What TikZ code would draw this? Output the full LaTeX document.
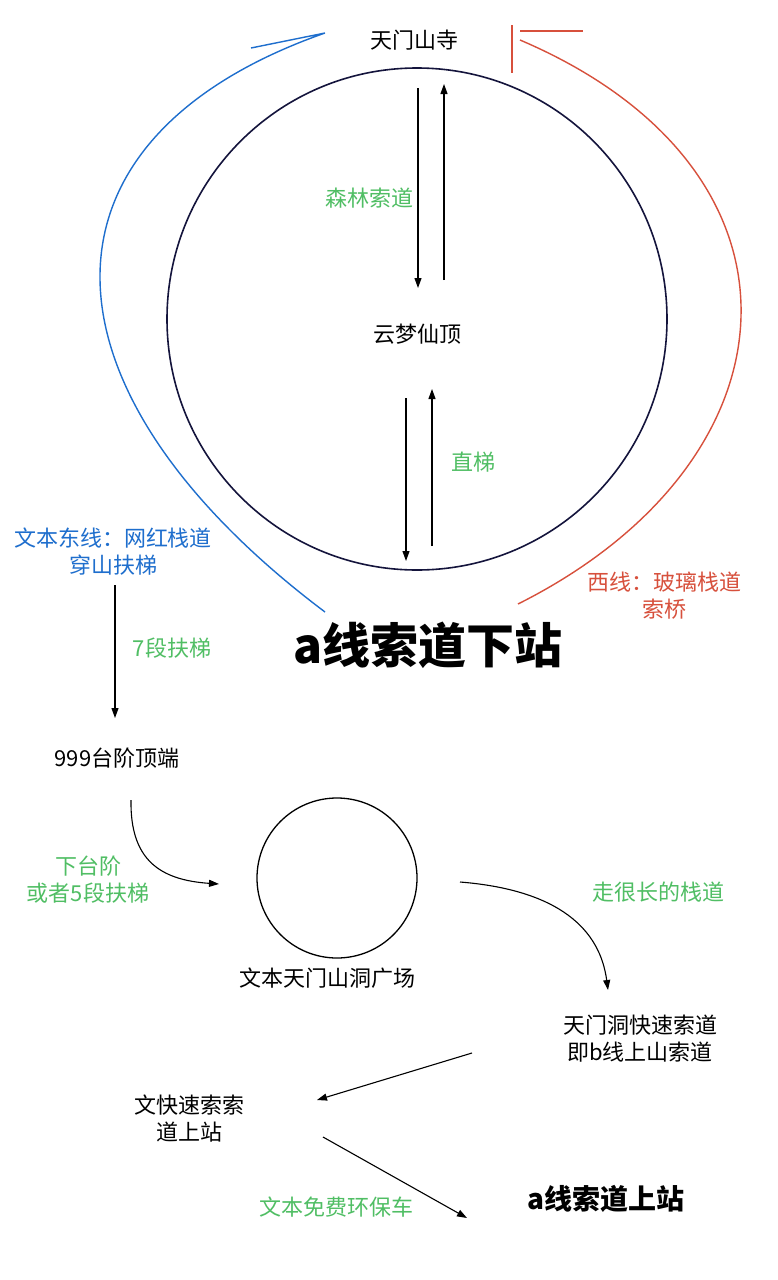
\documentclass[tikz,border=0pt]{standalone}
\usepackage{fontspec}
\setmainfont{Noto Sans CJK SC}
\usetikzlibrary{arrows.meta}
\definecolor{gr}{RGB}{80,190,100}
\definecolor{bl}{RGB}{30,110,205}
\definecolor{rd}{RGB}{215,80,60}
\definecolor{nv}{RGB}{20,20,60}
\begin{document}
\begin{tikzpicture}[x=1pt,y=-1pt,
  lbl/.style={font=\fontsize{22}{27}\selectfont,inner sep=0pt,align=center},
  big/.style={font=\fontsize{48}{54}\selectfont\bfseries,inner sep=0pt},
  arr/.style={-{Triangle[length=10pt,width=7pt]},line width=1.1pt}]
\useasboundingbox (0,0) rectangle (777,1280);
\fill[white] (0,0) rectangle (777,1280);
\draw[nv,line width=1.6pt] (417,319) ellipse [x radius=250,y radius=251];
\node[lbl] (si) at (414,40) {天门山寺};
\node[lbl] (ym) at (417,334) {云梦仙顶};
\node[lbl,gr] at (369,198) {森林索道};
\node[lbl,gr] at (473,462) {直梯};
\coordinate (a1) at (418,88); \coordinate (a2) at (418,288);
\draw[arr] (a1) -- (a2);
\coordinate (b1) at (444,280); \coordinate (b2) at (444,84);
\draw[arr] (b1) -- (b2);
\coordinate (c1) at (406,398); \coordinate (c2) at (406,561);
\draw[arr] (c1) -- (c2);
\coordinate (d1) at (432,546); \coordinate (d2) at (432,389);
\draw[arr] (d1) -- (d2);
\node[big] (xz) at (428,645) {a线索道下站};
\node[lbl,bl] at (113,552) {文本东线：网红栈道\\穿山扶梯};
\node[lbl,rd] at (664,596) {西线：玻璃栈道\\索桥};
% blue curve
\coordinate (bs) at (325,612); \coordinate (bt) at (325,33); \coordinate (bw) at (251,48);
\draw[bl,line width=1.4pt] (bs) .. controls (30,390) and (20,140) .. (bt) -- (bw);
% red curve
\coordinate (rs) at (518,604); \coordinate (rt) at (520,40);
\draw[rd,line width=1.4pt] (rs) .. controls (805,460) and (825,170) .. (rt);
\draw[rd,line width=1.4pt] (512,25) -- (512,73);
\draw[rd,line width=1.4pt] (520,31) -- (583,31);
\node[lbl,gr] at (172,648) {7段扶梯};
\coordinate (e1) at (115,585); \coordinate (e2) at (115,718);
\draw[arr] (e1) -- (e2);
\node[lbl] (td) at (117,758) {999台阶顶端};
\node[lbl,gr] at (88,880) {下台阶\\或者5段扶梯};
\coordinate (f1) at (131,800); \coordinate (f2) at (219,884);
\draw[arr] (f1) .. controls (130,860) and (160,880) .. (f2);
\draw[line width=1.3pt] (337,878) circle [radius=80];
\node[lbl] (gc) at (327,978) {文本天门山洞广场};
\node[lbl,gr] at (658,892) {走很长的栈道};
\coordinate (g1) at (460,882); \coordinate (g2) at (608,990);
\draw[arr] (g1) .. controls (560,890) and (600,930) .. (g2);
\node[lbl] (kd) at (640,1039) {天门洞快速索道\\即b线上山索道};
\coordinate (h1) at (472,1053); \coordinate (h2) at (317,1100);
\draw[arr] (h1) -- (h2);
\node[lbl] (ks) at (189,1119) {文快速索索\\道上站};
\coordinate (i1) at (323,1137); \coordinate (i2) at (467,1218);
\draw[arr] (i1) -- (i2);
\node[lbl,gr] at (336,1207) {文本免费环保车};
\node[font=\fontsize{28}{32}\selectfont\bfseries,inner sep=0pt] (ss) at (606,1199) {a线索道上站};
\end{tikzpicture}
\end{document}
